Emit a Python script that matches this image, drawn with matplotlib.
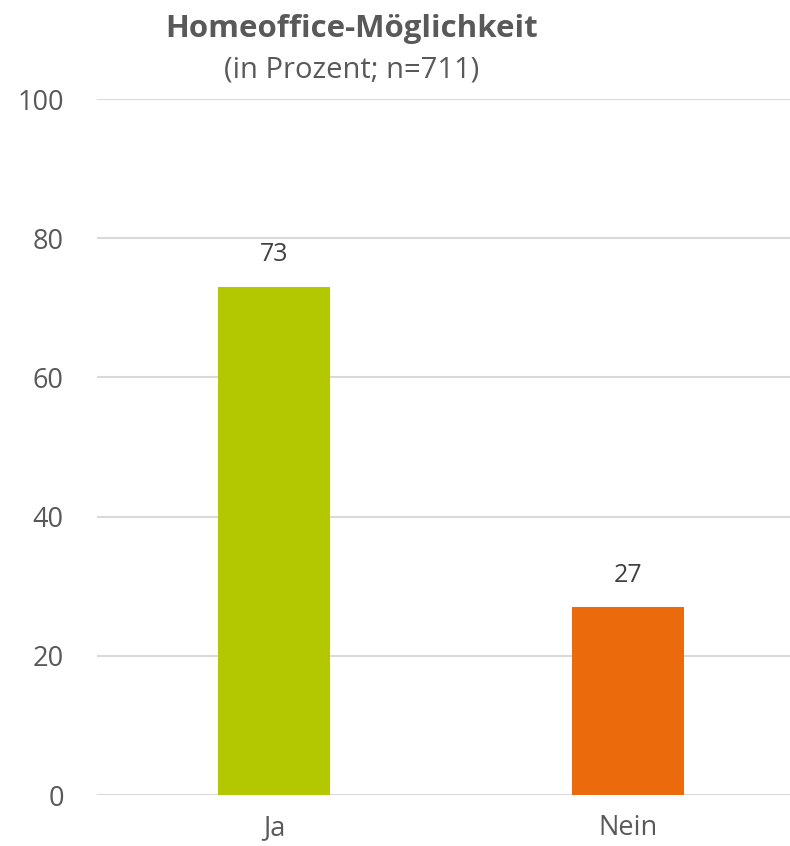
import matplotlib.pyplot as plt
import numpy as np

plt.rcParams['font.family'] = ['Open Sans', 'DejaVu Sans']

categories = ['Ja', 'Nein']
values = [73, 27]
colors = ['#b3c800', '#ea6a0c']
yticks = [0, 20, 40, 60, 80, 100]

fig = plt.figure(figsize=(7.9, 8.46), dpi=100)
# axes run past the right edge, as in the original
ax = fig.add_axes([97 / 790, 1 - 795 / 846, 708 / 790, 696 / 846])

x = np.arange(len(categories))
bars = ax.bar(x, values, width=0.316, color=colors, zorder=3)
ax.bar_label(bars, labels=[str(v) for v in values], padding=14, fontsize=18, color='#404040')

ax.set_xlim(-0.5, 1.5)
ax.set_ylim(0, 100)
ax.set_yticks(yticks)
ax.set_xticks(x)
ax.set_xticklabels(categories)
ax.grid(axis='y', color='#d9d9d9', linewidth=1.5, zorder=0)
ax.tick_params(axis='both', length=0, labelsize=19.5, labelcolor='#595959')
ax.tick_params(axis='y', pad=24)
ax.tick_params(axis='x', pad=14)
for s in ax.spines.values():
    s.set_visible(False)

fig.text(352 / 790, 1 - 29 / 846, 'Homeoffice-Möglichkeit', ha='center', va='center',
         fontsize=22.5, fontweight='bold', color='#595959')
fig.text(352 / 790, 1 - 70 / 846, '(in Prozent; n=711)', ha='center', va='center',
         fontsize=21, color='#595959')

fig.savefig('out.png', dpi=100)
